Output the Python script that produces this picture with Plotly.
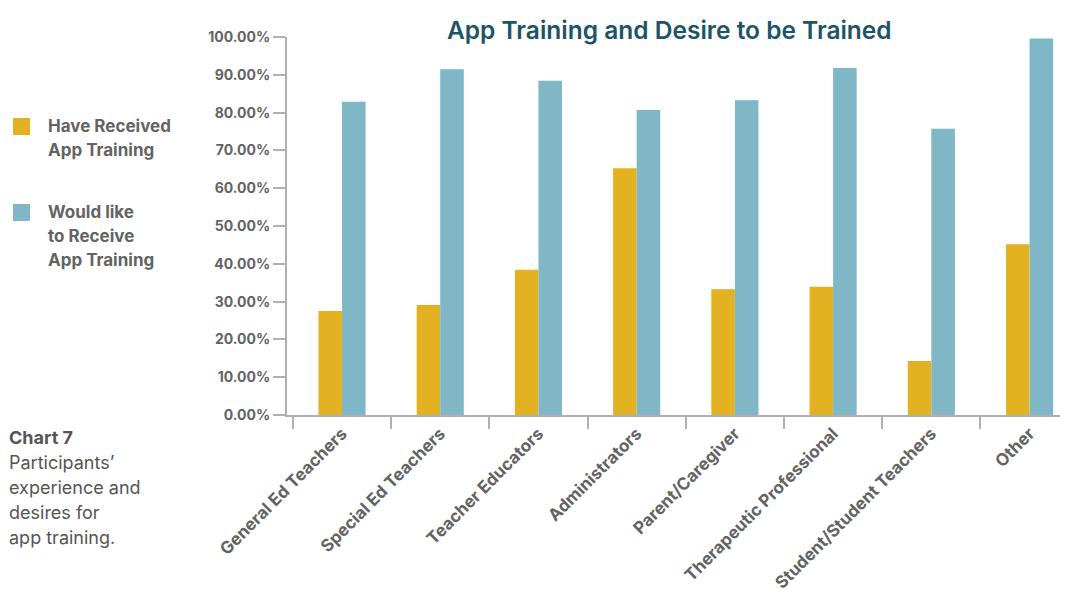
import plotly.graph_objects as go

categories = [
    "General Ed Teachers",
    "Special Ed Teachers",
    "Teacher Educators",
    "Administrators",
    "Parent/Caregiver",
    "Therapeutic Professional",
    "Student/Student Teachers",
    "Other",
]
received = [27.5, 29.1, 38.4, 65.3, 33.3, 33.9, 14.3, 45.2]
would_like = [82.9, 91.5, 88.4, 80.7, 83.3, 91.8, 75.7, 99.6]
y_ticks = [0, 10, 20, 30, 40, 50, 60, 70, 80, 90, 100]

GOLD = "#e2b222"
TEAL = "#7fb7c7"
GREY = "#636363"
FONT = "Inter"

# the page puts the plot 8px in from the top-left corner, so the figure is
# 8px smaller and margins are shifted to keep the plot area where it belongs
fig = go.Figure()
fig.add_bar(x=categories, y=received, name="Have Received App Training",
            marker={"color": GOLD, "line": {"width": 0}}, showlegend=False)
fig.add_bar(x=categories, y=would_like, name="Would like to Receive App Training",
            marker={"color": TEAL, "line": {"width": 0}}, showlegend=False)

fig.update_layout(
    width=1068,
    height=597,
    margin={"l": 279, "r": 16, "t": 29, "b": 190},
    plot_bgcolor="white",
    paper_bgcolor="white",
    barmode="group",
    bargap=0.52,
    bargroupgap=0,
    font={"family": FONT, "color": GREY},
    xaxis={
        "range": [-0.56, 7.31],
        "showgrid": False,
        "showline": True,
        "linecolor": "#b0b0b0",
        "linewidth": 2,
        "ticks": "outside",
        "tickson": "boundaries",
        "ticklen": 12,
        "tickwidth": 2,
        "tickcolor": "#b0b0b0",
        "tickangle": -45,
        "tickfont": {"family": FONT, "size": 17, "color": GREY, "weight": "bold"},
    },
    yaxis={
        "range": [0, 100],
        "tickvals": y_ticks,
        "ticktext": [f"{v:.2f}%" for v in y_ticks],
        "showgrid": False,
        "zeroline": False,
        "showline": True,
        "linecolor": "#b0b0b0",
        "linewidth": 2,
        "ticks": "outside",
        "ticklen": 12,
        "tickwidth": 2,
        "tickcolor": "#b0b0b0",
        "tickfont": {"family": FONT, "size": 14, "color": GREY, "weight": "bold"},
    },
)

# plot area in page pixels: x 287..1060, y 37..415
PX0, PW, PY0, PH = 287, 773, 415, 378


def px(x):
    return (x - PX0) / PW


def py(y):
    return (PY0 - y) / PH


def text_line(text, x, y, size, weight="normal", color=GREY):
    fig.add_annotation(
        text=text, xref="paper", yref="paper", x=px(x), y=py(y),
        xanchor="left", yanchor="middle", showarrow=False,
        font={"family": FONT, "size": size, "color": color, "weight": weight},
    )


# title
fig.add_annotation(
    text="App Training and Desire to be Trained",
    xref="paper", yref="paper", x=px(669), y=py(30),
    xanchor="center", yanchor="middle", showarrow=False,
    font={"family": FONT, "size": 24.5, "color": "#1d5468", "weight": 600},
)

# legend drawn by hand (left side)
legend_items = [
    (GOLD, 118, ["Have Received", "App Training"]),
    (TEAL, 204, ["Would like", "to Receive", "App Training"]),
]
for color, top, lines in legend_items:
    fig.add_shape(type="rect", xref="paper", yref="paper",
                  x0=px(13), x1=px(30), y0=py(top), y1=py(top + 17),
                  fillcolor=color, line_width=0)
    for i, line in enumerate(lines):
        text_line(line, 46, top + 8 + 24 * i, 17, "bold")

# caption
caption = ["Participants’", "experience and", "desires for", "app training."]
text_line("Chart 7", 7, 437, 18, "bold", "#555555")
for i, line in enumerate(caption):
    text_line(line, 7, 462 + 25 * i, 18, "normal", "#555555")

fig.write_html("out.html")
